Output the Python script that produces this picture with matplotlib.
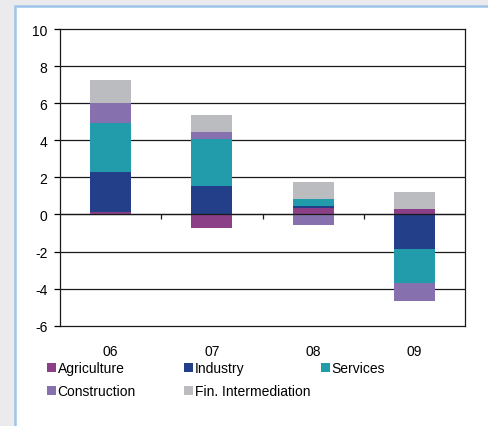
import numpy as np
import matplotlib.pyplot as plt
from matplotlib.patches import Rectangle, Patch

plt.rcParams['font.family'] = ['Liberation Sans', 'DejaVu Sans']
plt.rcParams['font.size'] = 10
plt.rcParams['axes.unicode_minus'] = False

years = ['06', '07', '08', '09']
sectors = ['Agriculture', 'Industry', 'Services', 'Construction', 'Fin. Intermediation']
agriculture = [0.13, -0.72, 0.35, 0.30]
industry = [2.18, 1.54, 0.11, -1.86]
services = [2.64, 2.53, 0.38, -1.83]
construction = [1.06, 0.38, -0.55, -0.98]
fin_intermediation = [1.24, 0.92, 0.91, 0.91]
colors = ['#8b3f87', '#233f8a', '#229baa', '#8670ad', '#bbbcc0']

series = [agriculture, industry, services, construction, fin_intermediation]

fig = plt.figure(figsize=(4.88, 4.27), dpi=100)
fig.patch.set_facecolor('#ebebed')
# white panel with light blue border
fig.patches.append(Rectangle((15 / 488, -0.1), 1.2, 1.1 - 7 / 427,
                             transform=fig.transFigure, facecolor='white',
                             edgecolor='#9fc4ea', linewidth=1.8, zorder=-5))

ax = fig.add_axes([60 / 488, 1 - 326.7 / 427, 405 / 488, 296.7 / 427])
ax.set_facecolor('white')

x = np.arange(len(years))
pos_base = np.zeros(len(years))
neg_base = np.zeros(len(years))
for vals, col in zip(series, colors):
    vals = np.array(vals)
    base = np.where(vals >= 0, pos_base, neg_base)
    ax.bar(x, vals, bottom=base, width=0.405, color=col, zorder=3)
    pos_base += np.where(vals >= 0, vals, 0)
    neg_base += np.where(vals < 0, vals, 0)

ax.set_xlim(-0.5, 3.5)
ax.set_ylim(-6, 10)
ax.set_yticks(np.arange(-6, 11, 2))
for y in range(-4, 10, 2):
    ax.axhline(y, color='#1a1a1a', linewidth=0.9, zorder=1)
ax.axhline(0, color='#1a1a1a', linewidth=0.9, zorder=4)
ax.vlines([0.5, 1.5, 2.5], -0.25, 0, color='#1a1a1a', linewidth=0.9, zorder=4)

for s in ax.spines.values():
    s.set_color('#1a1a1a')
    s.set_linewidth(0.9)

ax.tick_params(axis='y', direction='out', length=4, width=0.9, pad=5, labelsize=10)
ax.set_xticks(x)
ax.set_xticklabels(years)
ax.tick_params(axis='x', length=0, pad=13, labelsize=10)

handles = [Patch(facecolor=c, edgecolor='none') for c in colors]
columns = [([0, 3], 40 / 488), ([1, 4], 177 / 488), ([2], 314 / 488)]
for idx, xpos in columns:
    leg = fig.legend([handles[i] for i in idx], [sectors[i] for i in idx],
                     loc='upper left', bbox_to_anchor=(xpos, 1 - 355 / 427),
                     frameon=False, handlelength=0.62, handleheight=0.62,
                     handletextpad=0.15, labelspacing=0.65, borderpad=0,
                     fontsize=10)

fig.savefig('out.png', dpi=100, facecolor=fig.get_facecolor())
